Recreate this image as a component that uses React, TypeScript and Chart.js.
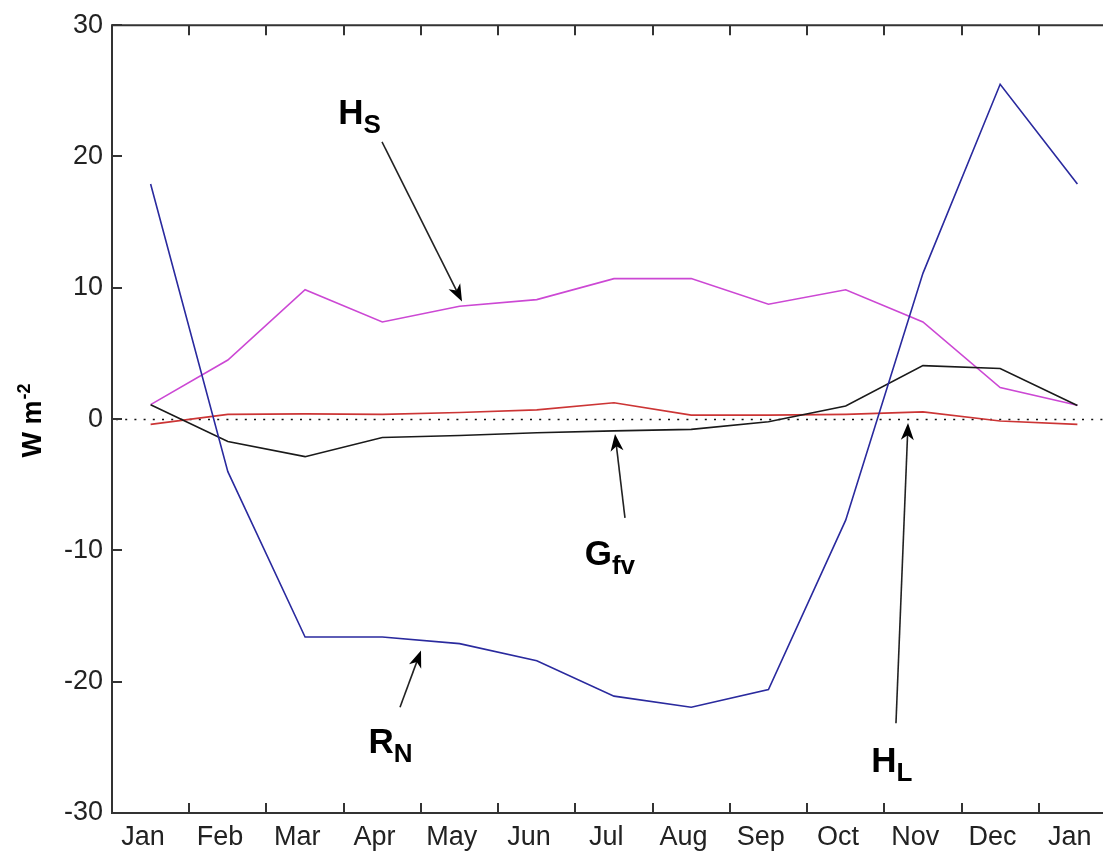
import React, { useEffect, useRef } from "react";
import { Chart, registerables } from "chart.js";

Chart.register(...registerables);

// ---------- data ----------
const monthLabels = ["Jan", "Feb", "Mar", "Apr", "May", "Jun", "Jul", "Aug", "Sep", "Oct", "Nov", "Dec", "Jan"];
// data sit at the middle of each month (month units, Jan 1 = 0)
const monthMid = [0.5, 1.5, 2.5, 3.5, 4.5, 5.5, 6.5, 7.5, 8.5, 9.5, 10.5, 11.5, 12.5];
// month boundaries where the tick marks are drawn
const monthBoundaries = [1, 2, 3, 4, 5, 6, 7, 8, 9, 10, 11, 12];
const yTicks = [-30, -20, -10, 0, 10, 20, 30];

const RN = [17.9, -4.0, -16.6, -16.6, -17.1, -18.4, -21.1, -21.95, -20.6, -7.7, 11.1, 25.5, 17.9];
const HS = [1.1, 4.5, 9.85, 7.4, 8.6, 9.1, 10.7, 10.7, 8.75, 9.85, 7.4, 2.4, 1.06];
const Gfv = [1.1, -1.7, -2.86, -1.4, -1.25, -1.04, -0.9, -0.78, -0.2, 1.0, 4.07, 3.85, 1.04];
const HL = [-0.4, 0.36, 0.4, 0.36, 0.5, 0.7, 1.24, 0.3, 0.3, 0.36, 0.55, -0.15, -0.4];

// annotation labels (data coordinates)
const labelMain = ["H", "G", "R", "H"];
const labelSub = ["S", "fv", "N", "L"];
const labelX = [2.93, 6.12, 3.32, 9.83];
const labelY = [22.48, -11.1, -25.44, -26.88];

// annotation arrows (data coordinates): tail -> tip
const arrowFromX = [3.496, 6.642, 3.729, 10.151];
const arrowFromY = [21.11, -7.52, -21.94, -23.16];
const arrowToX = [4.532, 6.513, 4.001, 10.307];
const arrowToY = [8.96, -1.14, -17.62, -0.3];

const FONT = '"Liberation Sans", Arial, Helvetica, sans-serif';

function toPts(vals: number[]) {
  return vals.map((v, i) => ({ x: monthMid[i], y: v }));
}

const framePlugin = {
  id: "frame",
  beforeDatasetsDraw(chart: any) {
    const { ctx, chartArea: a, scales } = chart;
    const y0 = Math.round(scales.y.getPixelForValue(0)) + 0.5;
    ctx.save();
    ctx.strokeStyle = "#111";
    ctx.lineWidth = 1.6;
    ctx.setLineDash([2, 7.2]);
    ctx.beginPath();
    ctx.moveTo(a.left + 4, y0);
    ctx.lineTo(a.right, y0);
    ctx.stroke();
    ctx.restore();
  },
  afterDraw(chart: any) {
    const { ctx, chartArea: a, scales } = chart;
    const x = scales.x;
    const y = scales.y;
    ctx.save();
    ctx.strokeStyle = "#333";
    ctx.lineWidth = 2;
    ctx.beginPath();
    ctx.moveTo(a.left, a.top);
    ctx.lineTo(a.right, a.top);
    ctx.lineTo(a.right, a.bottom);
    ctx.lineTo(a.left, a.bottom);
    ctx.closePath();
    ctx.stroke();
    ctx.beginPath();
    monthBoundaries.forEach((b) => {
      const px = Math.round(x.getPixelForValue(b));
      ctx.moveTo(px, a.bottom);
      ctx.lineTo(px, a.bottom - 10);
      ctx.moveTo(px, a.top);
      ctx.lineTo(px, a.top + 10);
    });
    yTicks.forEach((v) => {
      const py = Math.round(y.getPixelForValue(v));
      ctx.moveTo(a.left, py);
      ctx.lineTo(a.left + 10, py);
      ctx.moveTo(a.right, py);
      ctx.lineTo(a.right - 10, py);
    });
    ctx.stroke();

    // annotations: arrows
    ctx.strokeStyle = "#222";
    ctx.fillStyle = "#000";
    ctx.lineWidth = 1.6;
    for (let i = 0; i < arrowFromX.length; i++) {
      const x1 = x.getPixelForValue(arrowFromX[i]);
      const y1 = y.getPixelForValue(arrowFromY[i]);
      const x2 = x.getPixelForValue(arrowToX[i]);
      const y2 = y.getPixelForValue(arrowToY[i]);
      const ang = Math.atan2(y2 - y1, x2 - x1);
      const c = Math.cos(ang);
      const s = Math.sin(ang);
      const len = 17;
      const hw = 6.5;
      ctx.beginPath();
      ctx.moveTo(x1, y1);
      ctx.lineTo(x2 - c * len * 0.7, y2 - s * len * 0.7);
      ctx.stroke();
      ctx.beginPath();
      ctx.moveTo(x2, y2);
      ctx.lineTo(x2 - c * len - s * hw, y2 - s * len + c * hw);
      ctx.lineTo(x2 - c * len * 0.72, y2 - s * len * 0.72);
      ctx.lineTo(x2 - c * len + s * hw, y2 - s * len - c * hw);
      ctx.closePath();
      ctx.fill();
    }

    // annotations: labels
    ctx.fillStyle = "#000";
    ctx.textBaseline = "alphabetic";
    ctx.textAlign = "left";
    for (let i = 0; i < labelMain.length; i++) {
      const px = x.getPixelForValue(labelX[i]);
      const py = y.getPixelForValue(labelY[i]);
      ctx.font = `bold 35px ${FONT}`;
      ctx.fillText(labelMain[i], px, py);
      const w = ctx.measureText(labelMain[i]).width;
      ctx.font = `bold 26px ${FONT}`;
      ctx.fillText(labelSub[i], px + w, py + 9);
    }

    // y axis title  W m^-2
    const cy = (a.top + a.bottom) / 2 + 2;
    ctx.save();
    ctx.translate(31, cy);
    ctx.rotate(-Math.PI / 2);
    ctx.font = `bold 27px ${FONT}`;
    const w1 = ctx.measureText("W m").width;
    ctx.font = `bold 18px ${FONT}`;
    const w2 = ctx.measureText("-2").width;
    const start = -(w1 + w2) / 2;
    ctx.font = `bold 27px ${FONT}`;
    ctx.fillText("W m", start, 9.8);
    ctx.font = `bold 18px ${FONT}`;
    ctx.fillText("-2", start + w1 + 1, -1);
    ctx.restore();

    ctx.restore();
  },
};

export default function App() {
  const ref = useRef<HTMLCanvasElement>(null);

  useEffect(() => {
    if (!ref.current) return;
    const mk = (label: string, data: number[], color: string) => ({
      label,
      data: toPts(data),
      borderColor: color,
      backgroundColor: color,
      borderWidth: 1.6,
      pointRadius: 0,
      tension: 0,
      fill: false,
    });
    const chart = new Chart(ref.current, {
      type: "line",
      data: {
        datasets: [
          mk("RN", RN, "#2a2a9e"),
          mk("Gfv", Gfv, "#1a1a1a"),
          mk("HL", HL, "#cc3535"),
          mk("HS", HS, "#cc48d4"),
        ],
      },
      options: {
        animation: false,
        responsive: false,
        events: [],
        layout: { padding: { top: 23, right: 4, left: 0, bottom: 0 } },
        plugins: {
          legend: { display: false },
          tooltip: { enabled: false },
          title: { display: false },
        },
        scales: {
          x: {
            type: "linear",
            min: 0,
            max: 13,
            grid: { display: false, drawTicks: false },
            border: { display: false },
            afterBuildTicks: (scale: any) => {
              scale.ticks = monthLabels.map((_, i) => ({ value: i + 0.4 }));
            },
            afterFit: (scale: any) => {
              scale.height = 43;
            },
            ticks: {
              autoSkip: false,
              maxRotation: 0,
              minRotation: 0,
              padding: 8,
              color: "#222",
              font: { family: FONT, size: 27 },
              callback: (_v: any, i: number) => monthLabels[i],
            },
          },
          y: {
            min: -30,
            max: 30,
            grid: { display: false, drawTicks: false },
            border: { display: false },
            afterBuildTicks: (scale: any) => {
              scale.ticks = yTicks.map((v) => ({ value: v }));
            },
            afterFit: (scale: any) => {
              scale.width = 112;
            },
            ticks: {
              padding: 9,
              color: "#222",
              font: { family: FONT, size: 27 },
              callback: (v: any) => String(v),
            },
          },
        },
      },
      plugins: [framePlugin],
    } as any);
    return () => chart.destroy();
  }, []);

  return (
    <div
      style={{
        position: "fixed",
        left: 0,
        top: 0,
        width: 1103,
        height: 856,
        overflow: "hidden",
        background: "#fff",
      }}
    >
      <canvas ref={ref} width={1120} height={856} style={{ display: "block" }} />
    </div>
  );
}
